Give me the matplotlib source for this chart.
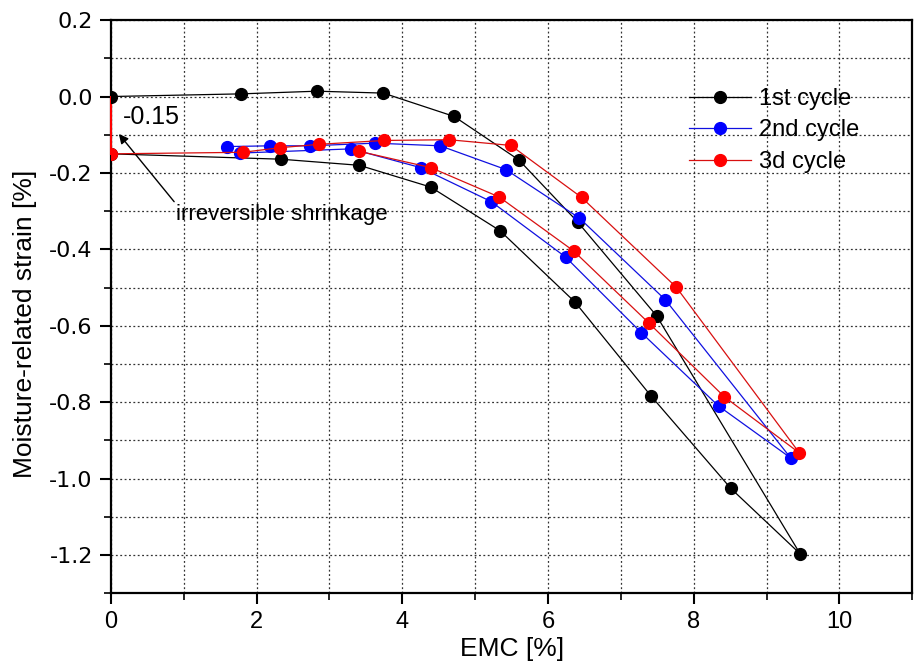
import matplotlib.pyplot as plt
from matplotlib.ticker import MultipleLocator

plt.rcParams['font.family'] = ['Liberation Sans', 'DejaVu Sans']

# 1st cycle
emc_1 = [0.0, 1.79, 2.83, 3.74, 4.71, 5.60, 6.41, 7.49, 9.46,
         8.51, 7.41, 6.37, 5.34, 4.39, 3.41, 2.33, 0.0]
strain_1 = [0.0, 0.007, 0.014, 0.009, -0.052, -0.166, -0.329, -0.574, -1.197,
            -1.026, -0.783, -0.538, -0.351, -0.237, -0.180, -0.164, -0.150]

# 2nd cycle
emc_2 = [1.59, 2.19, 2.74, 3.63, 4.52, 5.42, 6.43, 7.61, 9.33,
         8.34, 7.28, 6.24, 5.22, 4.25, 3.30, 1.77]
strain_2 = [-0.131, -0.129, -0.129, -0.122, -0.129, -0.191, -0.318, -0.532, -0.946,
            -0.810, -0.618, -0.420, -0.275, -0.186, -0.137, -0.148]

# 3d cycle
emc_3 = [0.0, 1.81, 2.32, 2.86, 3.75, 4.64, 5.49, 6.46, 7.76, 9.45,
         8.42, 7.39, 6.35, 5.33, 4.39, 3.40]
strain_3 = [-0.150, -0.146, -0.134, -0.125, -0.115, -0.113, -0.128, -0.264, -0.499, -0.933,
            -0.786, -0.594, -0.404, -0.263, -0.186, -0.143]

# irreversible shrinkage marker
shrink_x = [0.0, 0.0]
shrink_y = [0.0, -0.15]

ytick_vals = [0.2, 0.0, -0.2, -0.4, -0.6, -0.8, -1.0, -1.2]
ytick_labels = ['0.2', '0.0', '-0.2', '-0.4', '-0.6', '-0.8', '-1.0', '-1.2']

fig = plt.figure(figsize=(9.16, 6.71), dpi=100)
ax = fig.add_axes([0.121, 0.116, 0.875, 0.854])

ax.plot(shrink_x, shrink_y, color='red', lw=1.5, zorder=3, clip_on=False)
ax.plot(emc_1, strain_1, '-o', color='black', lw=0.9, ms=8.5, label='1st cycle', zorder=4)
ax.plot(emc_2, strain_2, '-o', color='#1010e0', mfc='blue', mec='blue', lw=0.9, ms=8.5,
        label='2nd cycle', zorder=4)
ax.plot(emc_3, strain_3, '-o', color='#d81010', mfc='red', mec='red', lw=0.9, ms=8.5,
        label='3d cycle', zorder=5)

ax.set_xlim(0, 11)
ax.set_ylim(-1.3, 0.2)
ax.xaxis.set_major_locator(MultipleLocator(2))
ax.xaxis.set_minor_locator(MultipleLocator(1))
ax.yaxis.set_minor_locator(MultipleLocator(0.1))
ax.set_yticks(ytick_vals)
ax.set_yticklabels(ytick_labels, fontfamily='DejaVu Sans', fontsize=16)

ax.grid(which='both', linestyle=(0, (1.5, 2)), color='#333333', lw=0.9)
ax.tick_params(which='major', direction='out', length=8, width=1.5)
ax.tick_params(axis='x', which='major', labelsize=17, pad=5)
ax.tick_params(axis='y', which='major', pad=5)
ax.tick_params(which='minor', direction='out', length=5, width=1.2)
ax.tick_params(top=False, right=False, which='both')
for s in ax.spines.values():
    s.set_linewidth(1.6)

ax.set_xlabel('EMC [%]', fontsize=19, labelpad=3)
ax.set_ylabel('Moisture-related strain [%]', fontsize=19)
ax.yaxis.set_label_coords(-0.092, 0.47)

ax.text(0.165, -0.054, '-0.15', fontsize=18, va='center')
ax.annotate('irreversible shrinkage', xy=(0.11, -0.098), xytext=(0.9, -0.31),
            fontsize=16, va='center', ha='left',
            arrowprops=dict(arrowstyle='-|>', color='black', lw=1.0, mutation_scale=14,
                            shrinkA=0, shrinkB=0, relpos=(0.0, 1.0)))

ax.legend(loc='upper left', bbox_to_anchor=(0.71, 0.898), frameon=False, fontsize=17,
          handlelength=2.6, handletextpad=0.35, labelspacing=0.4, borderaxespad=0)

fig.savefig('out.png', dpi=100)
